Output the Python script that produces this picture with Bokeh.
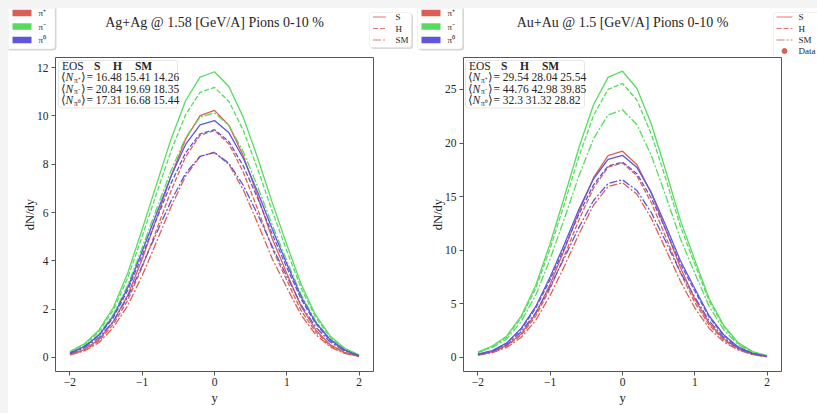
from bokeh.plotting import figure
from bokeh.models import Label, BoxAnnotation, FixedTicker, Range1d
from bokeh.layouts import row, column
from bokeh.embed import file_html
from bokeh.resources import INLINE

# ---------------- data ----------------
rapidity = [-2.0, -1.8, -1.6, -1.4, -1.2, -1.0, -0.8, -0.6, -0.4, -0.2, 0.0,
            0.2, 0.4, 0.6, 0.8, 1.0, 1.2, 1.4, 1.6, 1.8, 2.0]

# Ag+Ag @ 1.58 GeV/A
ag_pip_S = [0.13, 0.33, 0.74, 1.49, 2.58, 4.08, 5.77, 7.52, 9.04, 10.01, 10.23, 9.61, 8.33, 6.66, 4.91, 3.49, 2.10, 1.15, 0.53, 0.21, 0.05]
ag_pip_H = [0.12, 0.30, 0.68, 1.37, 2.37, 3.75, 5.30, 6.91, 8.31, 9.20, 9.40, 8.84, 7.66, 6.12, 4.51, 3.20, 1.93, 1.06, 0.49, 0.19, 0.05]
ag_pip_SM = [0.11, 0.27, 0.61, 1.24, 2.15, 3.39, 4.80, 6.25, 7.51, 8.32, 8.50, 7.99, 6.93, 5.54, 4.08, 2.90, 1.75, 0.95, 0.44, 0.17, 0.04]
ag_pim_S = [0.25, 0.57, 1.13, 2.07, 3.50, 5.31, 7.19, 9.05, 10.63, 11.61, 11.83, 11.21, 9.93, 8.24, 6.40, 4.68, 3.02, 1.75, 0.89, 0.38, 0.11]
ag_pim_H = [0.24, 0.54, 1.06, 1.96, 3.30, 5.02, 6.80, 8.56, 10.05, 10.98, 11.18, 10.60, 9.39, 7.78, 6.05, 4.42, 2.86, 1.66, 0.84, 0.36, 0.10]
ag_pim_SM = [0.21, 0.49, 0.96, 1.78, 2.99, 4.55, 6.16, 7.75, 9.10, 9.95, 10.13, 9.60, 8.51, 7.05, 5.48, 4.01, 2.59, 1.50, 0.76, 0.32, 0.09]
ag_pi0_S = [0.18, 0.45, 0.92, 1.72, 2.90, 4.40, 5.97, 7.51, 8.82, 9.63, 9.81, 9.30, 8.24, 6.83, 5.31, 3.88, 2.51, 1.45, 0.74, 0.31, 0.07]
ag_pi0_H = [0.17, 0.44, 0.90, 1.65, 2.79, 4.23, 5.74, 7.22, 8.48, 9.26, 9.43, 8.94, 7.92, 6.57, 5.10, 3.73, 2.41, 1.40, 0.71, 0.30, 0.07]
ag_pi0_SM = [0.16, 0.40, 0.81, 1.49, 2.51, 3.81, 5.16, 6.49, 7.62, 8.33, 8.48, 8.04, 7.12, 5.91, 4.59, 3.36, 2.17, 1.26, 0.64, 0.27, 0.06]

# Au+Au @ 1.5 GeV/A
au_pip_S = [0.25, 0.52, 1.12, 2.22, 4.09, 6.85, 10.11, 13.65, 16.77, 18.82, 19.24, 17.97, 15.30, 11.89, 8.41, 5.44, 3.20, 1.72, 0.83, 0.31, 0.08]
au_pip_H = [0.24, 0.49, 1.06, 2.09, 3.86, 6.46, 9.54, 12.87, 15.82, 17.75, 18.15, 16.94, 14.43, 11.21, 7.94, 5.13, 3.02, 1.62, 0.78, 0.29, 0.07]
au_pip_SM = [0.21, 0.44, 0.95, 1.88, 3.47, 5.80, 8.57, 11.56, 14.21, 15.94, 16.30, 15.22, 12.97, 10.07, 7.13, 4.61, 2.71, 1.46, 0.70, 0.26, 0.07]
au_pim_S = [0.51, 1.07, 2.01, 3.88, 6.74, 10.65, 15.06, 19.63, 23.59, 26.13, 26.70, 25.09, 21.75, 17.39, 12.81, 9.10, 5.48, 3.00, 1.39, 0.54, 0.16]
au_pim_H = [0.49, 1.02, 1.92, 3.71, 6.45, 10.19, 14.41, 18.79, 22.58, 25.01, 25.55, 24.01, 20.81, 16.64, 12.26, 8.70, 5.25, 2.87, 1.33, 0.51, 0.15]
au_pim_SM = [0.44, 0.93, 1.74, 3.36, 5.83, 9.21, 13.03, 16.99, 20.42, 22.62, 23.10, 21.71, 18.82, 15.05, 11.09, 7.87, 4.75, 2.59, 1.20, 0.46, 0.14]
au_pi0_S = [0.30, 0.64, 1.36, 2.74, 4.76, 7.52, 10.64, 13.87, 16.67, 18.47, 18.86, 17.73, 15.37, 12.29, 9.05, 6.43, 3.87, 2.12, 0.98, 0.38, 0.11]
au_pi0_H = [0.29, 0.62, 1.32, 2.65, 4.60, 7.27, 10.29, 13.41, 16.11, 17.85, 18.23, 17.14, 14.85, 11.88, 8.75, 6.21, 3.75, 2.05, 0.95, 0.37, 0.11]
au_pi0_SM = [0.27, 0.56, 1.20, 2.41, 4.18, 6.61, 9.35, 12.18, 14.64, 16.22, 16.57, 15.57, 13.50, 10.79, 7.95, 5.64, 3.40, 1.86, 0.86, 0.33, 0.10]

eos_names = ["S", "H", "SM"]
particles = ["π⁺", "π⁻", "π⁰"]
ag_mult_pip = [16.48, 15.41, 14.26]
ag_mult_pim = [20.84, 19.69, 18.35]
ag_mult_pi0 = [17.31, 16.68, 15.44]
au_mult_pip = [29.54, 28.04, 25.54]
au_mult_pim = [44.76, 42.98, 39.85]
au_mult_pi0 = [32.3, 31.32, 28.82]

x_ticks = [-2, -1, 0, 1, 2]
x_tick_labels = ["−2", "−1", "0", "1", "2"]
ag_y_ticks = [0, 2, 4, 6, 8, 10, 12]
au_y_ticks = [0, 5, 10, 15, 20, 25]

ag_title = "Ag+Ag @ 1.58 [GeV/A] Pions 0-10 %"
au_title = "Au+Au @ 1.5 [GeV/A] Pions 0-10 %"

# ---------------- style ----------------
FONT = "Liberation Serif"
TXT = "#262626"
COLORS = ["#db5f57", "#57db5f", "#5f57db"]
DASHES = ["solid", "5 2", "8 2 2 2"]
STRIP_TOP, STRIP_BOTTOM = 8, 56       # page coordinates of the header strip
FRAME_TOP, FRAME_BOTTOM = 57, 371     # page coordinates of the plot frames
PLOT_H = 405 - (STRIP_BOTTOM - STRIP_TOP)
X0, X1 = -2.2, 2.2


def make_panel(page_left, width, frame_left, frame_right, y_start, y_end, y_ticks,
               series, mults, box_left):
    p = figure(width=width, height=PLOT_H, output_backend="svg", toolbar_location=None,
               x_range=Range1d(X0, X1), y_range=Range1d(y_start, y_end),
               min_border_left=frame_left - page_left,
               min_border_right=width - (frame_right - page_left),
               min_border_top=FRAME_TOP - STRIP_BOTTOM,
               min_border_bottom=PLOT_H - (FRAME_BOTTOM - STRIP_BOTTOM))
    p.grid.visible = False
    p.outline_line_color = "#555555"
    p.outline_line_width = 1
    p.background_fill_color = "white"
    p.border_fill_color = "white"

    for ax in (p.xaxis[0], p.yaxis[0]):
        ax.axis_line_color = None
        ax.major_tick_line_color = "#555555"
        ax.major_tick_out = 4
        ax.major_tick_in = 0
        ax.minor_tick_line_color = None
        ax.major_label_text_font = FONT
        ax.major_label_text_font_size = "11.5px"
        ax.major_label_text_color = TXT
        ax.axis_label_text_font = FONT
        ax.axis_label_text_font_size = "12.5px"
        ax.axis_label_text_font_style = "normal"
        ax.axis_label_text_color = TXT
    p.xaxis.ticker = FixedTicker(ticks=x_ticks)
    p.xaxis.major_label_overrides = {t: l for t, l in zip(x_ticks, x_tick_labels)}
    p.yaxis.ticker = FixedTicker(ticks=y_ticks)
    p.xaxis.axis_label = "y"
    p.yaxis.axis_label = "dN/dy"
    p.xaxis.major_label_standoff = 2
    p.xaxis.axis_label_standoff = 2
    p.yaxis.major_label_standoff = 3
    p.yaxis.axis_label_standoff = -3

    for pi, col in enumerate(COLORS):
        for ei, dash in enumerate(DASHES):
            p.line(rapidity, series[pi][ei], line_color=col, line_width=1.3, line_dash=dash)

    # page pixel -> data coordinate helpers (for the table box)
    fw = frame_right - frame_left
    fh = FRAME_BOTTOM - FRAME_TOP

    def dx(px):
        return X0 + (px - frame_left) * (X1 - X0) / fw

    def dy(py):
        return y_end - (py - FRAME_TOP) * (y_end - y_start) / fh

    def lab(txt, px, py, size="11.5px", align="left", style="normal"):
        p.add_layout(Label(x=px - frame_left, y=FRAME_BOTTOM - py, x_units="screen", y_units="screen",
                           text=txt, text_font=FONT, text_font_size=size, text_color=TXT,
                           text_align=align, text_baseline="middle", text_font_style=style))

    # EOS table box
    p.add_layout(BoxAnnotation(left=dx(box_left), right=dx(box_left + 119), top=dy(60), bottom=dy(107.5),
                               fill_color="white", fill_alpha=0.85,
                               line_color="#b0b0b0", line_width=1, border_radius=3))
    ys = [65, 76.5, 88, 99.5]
    lab("EOS", box_left + 3.5, ys[0])
    for name, cx in zip(eos_names, [38.7, 59, 85]):
        lab(name, box_left + cx, ys[0], align="center", style="bold")
    for k in range(3):
        yy = ys[k + 1]
        lab("⟨", box_left + 2.5, yy)
        lab("N", box_left + 7, yy, style="italic")
        lab(particles[k], box_left + 15.5, yy + 3, size="7.5px")
        lab("⟩", box_left + 22.5, yy)
        lab("= " + " ".join(str(v) for v in mults[k]), box_left + 28, yy)
    return p


ag_series = [[ag_pip_S, ag_pip_H, ag_pip_SM], [ag_pim_S, ag_pim_H, ag_pim_SM], [ag_pi0_S, ag_pi0_H, ag_pi0_SM]]
au_series = [[au_pip_S, au_pip_H, au_pip_SM], [au_pim_S, au_pim_H, au_pim_SM], [au_pi0_S, au_pi0_H, au_pi0_SM]]

p1 = make_panel(8, 406, 55, 373, -0.58, 12.42, ag_y_ticks, ag_series,
                [ag_mult_pip, ag_mult_pim, ag_mult_pi0], 58)
p2 = make_panel(414, 403, 463, 781, -1.31, 27.98, au_y_ticks, au_series,
                [au_mult_pip, au_mult_pim, au_mult_pi0], 465)

# ---------------- header strip: titles and legends (page-pixel coordinates) ----------------
strip = figure(width=809, height=STRIP_BOTTOM - STRIP_TOP, output_backend="svg", toolbar_location=None,
               x_range=Range1d(8, 817), y_range=Range1d(STRIP_BOTTOM, STRIP_TOP),
               x_axis_type=None, y_axis_type=None, min_border=0)
strip.grid.visible = False
strip.outline_line_color = None
strip.background_fill_color = "white"
strip.border_fill_color = "white"

for txt, cx in [(ag_title, 214), (au_title, 622)]:
    strip.add_layout(Label(x=cx, y=22, text=txt, text_font=FONT, text_font_size="14px",
                           text_color=TXT, text_align="center", text_baseline="middle"))


def legend_box(left, right, top, bottom):
    strip.add_layout(BoxAnnotation(left=left + 1.5, right=right + 1.5, top=top + 1.5, bottom=bottom + 1.5,
                                   fill_color="#b8b8b8", fill_alpha=0.55, line_color=None,
                                   border_radius=3, level="underlay"))
    strip.add_layout(BoxAnnotation(left=left, right=right, top=top, bottom=bottom,
                                   fill_color="white", fill_alpha=1, line_color="#cfcfcf",
                                   line_width=1, border_radius=3, level="underlay"))


def key_label(txt, px, py, size="9px"):
    strip.add_layout(Label(x=px, y=py, text=txt, text_font=FONT, text_font_size=size,
                           text_color=TXT, text_align="left", text_baseline="middle"))


def particle_legend(left, right, patch_x, label_x):
    legend_box(left, right, 0, 48.5)
    for i, yy in enumerate([12.5, 26, 39.5]):
        strip.add_layout(BoxAnnotation(left=patch_x, right=patch_x + 19, top=yy - 3.2, bottom=yy + 3.2,
                                       fill_color=COLORS[i], fill_alpha=1, line_color=None))
        key_label(particles[i], label_x, yy)


def style_legend(left, right, bottom, x_a, x_b, label_x, with_data):
    legend_box(left, right, 12, bottom)
    for i, yy in enumerate([16.5, 28, 39.5]):
        strip.line([x_a, x_b], [yy, yy], line_color=COLORS[0], line_alpha=0.85, line_width=1.2,
                   line_dash=DASHES[i])
        key_label(eos_names[i], label_x, yy)
    if with_data:
        strip.scatter([(x_a + x_b) / 2], [50.5], marker="circle", size=5,
                      fill_color=COLORS[0], line_color=COLORS[0])
        key_label("Data", label_x, 50.5)


particle_legend(5, 54.5, 12, 38)
particle_legend(417, 462, 421, 447)
style_legend(369, 411, 47, 372.5, 385.5, 395, False)
style_legend(773, 830, 59, 776, 792, 798, True)

layout = column(strip, row(p1, p2, spacing=0, styles={"background-color": "white"}), spacing=0,
                styles={"background-color": "white"})
html = file_html(layout, INLINE, title="pions")
html = html.replace("</head>", "<style>html, body { background: #f4f4f4 !important; } "
                                "body { padding: 8px 0 0 8px !important; box-sizing: border-box; }</style></head>", 1)
open("out.html", "w").write(html)
